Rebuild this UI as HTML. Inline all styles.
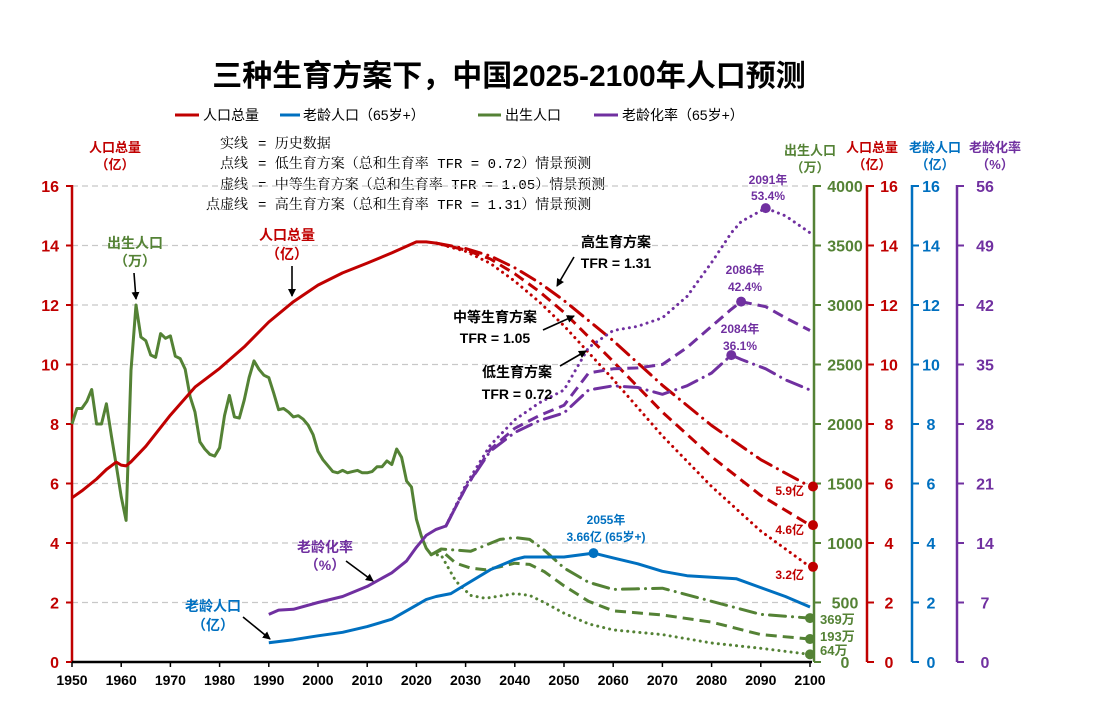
<!DOCTYPE html>
<html><head><meta charset="utf-8">
<style>
html,body{margin:0;padding:0;background:#fff;}
svg{display:block;font-family:"Liberation Sans","Noto Sans CJK SC",sans-serif;}
.b{font-weight:bold;}
.mono{font-family:"Liberation Mono","Noto Serif CJK SC",monospace;}
</style></head>
<body>
<svg id="chart" width="1104" height="711" viewBox="0 0 1104 711">
<defs>
<marker id="arr" markerWidth="8" markerHeight="8" refX="7" refY="4" orient="auto" markerUnits="userSpaceOnUse"><path d="M0,0 L8,4 L0,8 z" fill="#000"/></marker>
</defs>
<text x="509" y="86" text-anchor="middle" font-size="30" class="b">三种生育方案下，中国2025-2100年人口预测</text>
<g font-size="14">
<g><line x1="175" y1="115" x2="199" y2="115" stroke="#C00000" stroke-width="3"/><text x="203" y="120">人口总量</text></g>
<g><line x1="280" y1="115" x2="300" y2="115" stroke="#0070C0" stroke-width="3"/><text x="303" y="120">老龄人口（65岁+）</text></g>
<g><line x1="478" y1="115" x2="501" y2="115" stroke="#548235" stroke-width="3"/><text x="505" y="120">出生人口</text></g>
<g><line x1="594" y1="115" x2="618" y2="115" stroke="#7030A0" stroke-width="3"/><text x="622" y="120">老龄化率（65岁+）</text></g>
</g>
<g class="mono" font-size="14">
<text x="248" y="148" text-anchor="end">实线</text><text x="258" y="148">= 历史数据</text>
<text x="248" y="168" text-anchor="end">点线</text><text x="258" y="168">= 低生育方案（总和生育率 TFR = 0.72）情景预测</text>
<text x="248" y="189" text-anchor="end">虚线</text><text x="258" y="189">= 中等生育方案（总和生育率 TFR = 1.05）情景预测</text>
<text x="248" y="209" text-anchor="end">点虚线</text><text x="258" y="209">= 高生育方案（总和生育率 TFR = 1.31）情景预测</text>
</g>
<g id="grid"></g>
<g id="axes"></g>
<g id="series"></g>
<g id="annot"></g>
</svg>
<script>
// ---- data ----
const xTicks=[1950,1960,1970,1980,1990,2000,2010,2020,2030,2040,2050,2060,2070,2080,2090,2100];
const popTicks=[0,2,4,6,8,10,12,14,16];
const birthTicks=[0,500,1000,1500,2000,2500,3000,3500,4000];
const rateTicks=[0,7,14,21,28,35,42,49,56];

const popHistYears=[1950,1952,1955,1957,1959,1960,1961,1962,1965,1970,1975,1980,1985,1990,1995,2000,2005,2010,2015,2020,2022,2024];
const popHist=[5.52,5.75,6.15,6.47,6.72,6.62,6.59,6.73,7.25,8.30,9.24,9.87,10.59,11.43,12.11,12.67,13.08,13.41,13.75,14.12,14.12,14.08];
const projYears=[2024,2030,2035,2040,2045,2050,2060,2070,2080,2090,2100];
const popLow=[14.08,13.8,13.4,12.8,12.1,11.3,9.5,7.6,5.9,4.4,3.2];
const popMid=[14.08,13.85,13.55,13.05,12.45,11.75,10.1,8.4,6.9,5.6,4.6];
const popHigh=[14.08,13.9,13.65,13.25,12.75,12.15,10.8,9.3,7.95,6.8,5.9];

const birthHistYears=[1950,1951,1952,1953,1954,1955,1956,1957,1958,1959,1960,1961,1962,1963,1964,1965,1966,1967,1968,1969,1970,1971,1972,1973,1974,1975,1976,1977,1978,1979,1980,1981,1982,1983,1984,1985,1986,1987,1988,1989,1990,1991,1992,1993,1994,1995,1996,1997,1998,1999,2000,2001,2002,2003,2004,2005,2006,2007,2008,2009,2010,2011,2012,2013,2014,2015,2016,2017,2018,2019,2020,2021,2022,2023];
const birthHist=[2000,2130,2130,2190,2290,2000,2000,2170,1900,1650,1390,1190,2450,3000,2730,2700,2580,2560,2760,2720,2740,2570,2550,2460,2230,2100,1850,1790,1745,1730,1800,2070,2240,2060,2050,2200,2390,2530,2460,2410,2390,2260,2120,2130,2100,2060,2070,2040,1990,1910,1770,1700,1650,1600,1590,1610,1590,1600,1610,1590,1590,1600,1640,1640,1690,1660,1790,1720,1520,1470,1200,1060,956,902];
const birthProjYears=[2023,2025,2028,2031,2034,2037,2040,2043,2046,2050,2055,2060,2070,2080,2090,2100];
const birthLow=[902,900,680,560,535,555,575,560,500,410,320,270,230,160,115,64];
const birthMid=[902,940,830,790,775,800,830,820,760,640,510,430,395,335,230,193];
const birthHigh=[902,950,940,930,980,1030,1045,1030,940,790,670,610,620,510,400,369];

const eldYears=[1990,1995,2000,2005,2010,2015,2020,2022,2024,2027,2030,2035,2040,2042,2050,2056,2060,2065,2070,2075,2080,2085,2090,2095,2100];
const elderly=[0.65,0.75,0.88,1.0,1.19,1.44,1.91,2.1,2.2,2.3,2.6,3.1,3.45,3.53,3.53,3.66,3.5,3.3,3.05,2.9,2.85,2.8,2.5,2.2,1.85];

const rateHistYears=[1990,1992,1995,2000,2005,2010,2015,2018,2020,2022,2024,2026];
const rateHist=[5.6,6.1,6.2,7.0,7.7,8.9,10.5,11.9,13.5,14.9,15.6,16.0];
const rateProjYears=[2026,2030,2035,2040,2045,2050,2055,2060,2065,2070,2075,2080,2084,2086,2091,2095,2100];
const rateLow=[16.0,20.8,25.5,28.5,30.5,32.0,37.0,39.0,39.5,40.5,43.0,47.0,50.5,51.8,53.4,52.5,50.5];
const rateMid=[16.0,20.5,25.0,27.5,29.0,30.2,34.0,34.5,34.6,35.0,37.0,39.5,41.5,42.4,41.8,40.5,39.0];
const rateHigh=[16.0,20.5,24.8,27.0,28.4,29.3,32.0,32.5,32.3,31.5,32.5,34.0,36.1,35.6,34.5,33.2,32.0];

// ---- scales ----
const X=y=>72+(y-1950)*4.92;
const YL=v=>662-v*29.75;
const YB=v=>662-v*0.119;
const YP=v=>662-v*8.5;
const NS="http://www.w3.org/2000/svg";
function mk(tag,parent,attrs){const e=document.createElementNS(NS,tag);for(const k in attrs)e.setAttribute(k,attrs[k]);parent.appendChild(e);return e;}
const grid=document.getElementById('grid'),axes=document.getElementById('axes'),series=document.getElementById('series'),annot=document.getElementById('annot');
const RED="#C00000",BLUE="#0070C0",GREEN="#548235",PURP="#7030A0";

popTicks.forEach(t=>{if(t===0)return;
 const l=mk('line',grid,{x1:72,x2:810,y1:YL(t),y2:YL(t),stroke:'#c8c8c8','stroke-width':1.2,'stroke-dasharray':'6,4'});
 
 
});

mk('line',axes,{x1:72,x2:72,y1:185,y2:662,stroke:RED,'stroke-width':2.5});
popTicks.forEach(t=>{
 mk('line',axes,{x1:66,x2:72,y1:YL(t),y2:YL(t),stroke:RED,'stroke-width':2});
 const tx=mk('text',axes,{x:59,y:YL(t)+6,'text-anchor':'end','font-size':16,'font-weight':'bold',fill:RED});
 tx.textContent=t;
 
 
});
mk('line',axes,{x1:72,x2:812,y1:662,y2:662,stroke:'#000','stroke-width':2.5});
xTicks.forEach(t=>{
 mk('line',axes,{x1:X(t),x2:X(t),y1:662,y2:667,stroke:'#000','stroke-width':1.5});
 const tx=mk('text',axes,{x:X(t),y:685,'text-anchor':'middle','font-size':14,'font-weight':'bold'});
 tx.textContent=t;
 
 
});
function rightAxis(x,ticks,scale,color,lx,name){
 mk('line',axes,{x1:x,x2:x,y1:185,y2:662,stroke:color,'stroke-width':2.5});
 ticks.forEach(t=>{
  mk('line',axes,{x1:x,x2:x+7,y1:scale(t),y2:scale(t),stroke:color,'stroke-width':2});
  const tx=mk('text',axes,{x:lx,y:scale(t)+6,'text-anchor':'middle','font-size':16,'font-weight':'bold',fill:color});
  tx.textContent=t;
  
  
 });
}
rightAxis(814,birthTicks,YB,GREEN,845,'births-axis-tick-label');
rightAxis(867,popTicks,YL,RED,889,'right-pop-axis-tick-label');
rightAxis(912,popTicks,YL,BLUE,931,'elderly-axis-tick-label');
rightAxis(957,rateTicks,YP,PURP,985,'aging-rate-axis-tick-label');

function line(xs,vs,ys,color,style,name,w){
 const d=xs.map((x,i)=>(i?'L':'M')+X(x).toFixed(1)+','+ys(vs[i]).toFixed(1)).join(' ');
 const a={d:d,fill:'none',stroke:color,'stroke-width':w||3,'stroke-linejoin':'round'};
 if(style==='dot'){a['stroke-dasharray']='0.1,6';a['stroke-linecap']='round';a['stroke-width']=3;}
 if(style==='dash'){a['stroke-dasharray']='11,6';}
 if(style==='dashdot'){a['stroke-dasharray']='16,7,0.1,7';a['stroke-linecap']='round';}
 const p=mk('path',series,a);
 
 
}
line(birthHistYears,birthHist,YB,GREEN,'solid','births-history-line',3);
line(birthProjYears,birthLow,YB,GREEN,'dot','births-low-line');
line(birthProjYears,birthMid,YB,GREEN,'dash','births-mid-line');
line(birthProjYears,birthHigh,YB,GREEN,'dashdot','births-high-line');
line(popHistYears,popHist,YL,RED,'solid','population-history-line');
line(projYears,popLow,YL,RED,'dot','population-low-line');
line(projYears,popMid,YL,RED,'dash','population-mid-line');
line(projYears,popHigh,YL,RED,'dashdot','population-high-line');
line(eldYears,elderly,YL,BLUE,'solid','elderly-line');
line(rateHistYears,rateHist,YP,PURP,'solid','aging-rate-history-line');
line(rateProjYears,rateLow,YP,PURP,'dot','aging-rate-low-line');
line(rateProjYears,rateMid,YP,PURP,'dash','aging-rate-mid-line');
line(rateProjYears,rateHigh,YP,PURP,'dashdot','aging-rate-high-line');

function dot(x,y,c,name){const e=mk('circle',annot,{cx:x,cy:y,r:5,fill:c});
 
 }
dot(X(2100)+3,YL(popHigh[popHigh.length-1]),RED,'pop-high-end-dot');
dot(X(2100)+3,YL(popMid[popMid.length-1]),RED,'pop-mid-end-dot');
dot(X(2100)+3,YL(popLow[popLow.length-1]),RED,'pop-low-end-dot');
dot(X(2100),YB(birthHigh[birthHigh.length-1]),GREEN,'births-high-end-dot');
dot(X(2100),YB(birthMid[birthMid.length-1]),GREEN,'births-mid-end-dot');
dot(X(2100),YB(birthLow[birthLow.length-1]),GREEN,'births-low-end-dot');
dot(X(2056),YL(3.66),BLUE,'elderly-peak-dot');
dot(X(2091),YP(53.4),PURP,'rate-low-peak-dot');
dot(X(2086),YP(42.4),PURP,'rate-mid-peak-dot');
dot(X(2084),YP(36.1),PURP,'rate-high-peak-dot');

function txt(x,y,s,c,size,name,anchor){const e=mk('text',annot,{x:x,y:y,'text-anchor':anchor||'middle','font-size':size,'font-weight':'bold',fill:c});e.textContent=s;
 
 }
function arrow(x1,y1,x2,y2){const e=mk('line',annot,{x1:x1,y1:y1,x2:x2,y2:y2,stroke:'#000','stroke-width':1.6,'marker-end':'url(#arr)'});
 
 }
txt(115,152,'人口总量',RED,13,'left-axis-title');txt(115,169,'（亿）',RED,13,'left-axis-unit');
txt(810,155,'出生人口',GREEN,13,'births-axis-title');txt(810,172,'（万）',GREEN,13,'births-axis-unit');
txt(872,152,'人口总量',RED,13,'right-pop-axis-title');txt(872,169,'（亿）',RED,13,'right-pop-axis-unit');
txt(935,152,'老龄人口',BLUE,13,'elderly-axis-title');txt(935,169,'（亿）',BLUE,13,'elderly-axis-unit');
txt(995,152,'老龄化率',PURP,13,'aging-rate-axis-title');txt(995,169,'（%）',PURP,13,'aging-rate-axis-unit');

txt(135,248,'出生人口',GREEN,14,'births-label');txt(135,266,'（万）',GREEN,14,'births-label-unit');arrow(134,273,136,299);
txt(287,240,'人口总量',RED,14,'population-label');txt(287,259,'（亿）',RED,14,'population-label-unit');arrow(292,266,292,296);
txt(616,247,'高生育方案',"#000",14,'high-scenario-label');txt(616,268,'TFR = 1.31',"#000",14,'high-tfr-label');arrow(574,257,557,286);
txt(495,322,'中等生育方案',"#000",14,'mid-scenario-label');txt(495,343,'TFR = 1.05',"#000",14,'mid-tfr-label');arrow(543,330,574,316);
txt(517,377,'低生育方案',"#000",14,'low-scenario-label');txt(517,399,'TFR = 0.72',"#000",14,'low-tfr-label');arrow(560,366,586,351);
txt(325,552,'老龄化率',PURP,14,'aging-rate-label');txt(325,570,'（%）',PURP,14,'aging-rate-label-unit');arrow(346,561,373,581);
txt(213,611,'老龄人口',BLUE,14,'elderly-label');txt(213,630,'（亿）',BLUE,14,'elderly-label-unit');arrow(243,617,270,639);
txt(606,524,'2055年',BLUE,12,'elderly-peak-year');txt(606,541,'3.66亿 (65岁+)',BLUE,12,'elderly-peak-value');
txt(768,184,'2091年',PURP,12,'rate-low-peak-year');txt(768,200,'53.4%',PURP,12,'rate-low-peak-value');
txt(745,274,'2086年',PURP,12,'rate-mid-peak-year');txt(745,291,'42.4%',PURP,12,'rate-mid-peak-value');
txt(740,333,'2084年',PURP,12,'rate-high-peak-year');txt(740,350,'36.1%',PURP,12,'rate-high-peak-value');
txt(804,495,'5.9亿',RED,12,'pop-high-end-label','end');txt(804,534,'4.6亿',RED,12,'pop-mid-end-label','end');txt(804,579,'3.2亿',RED,12,'pop-low-end-label','end');
txt(820,624,'369万',GREEN,13,'births-high-end-label','start');txt(820,641,'193万',GREEN,13,'births-mid-end-label','start');txt(820,655,'64万',GREEN,13,'births-low-end-label','start');
</script>
</body></html>
